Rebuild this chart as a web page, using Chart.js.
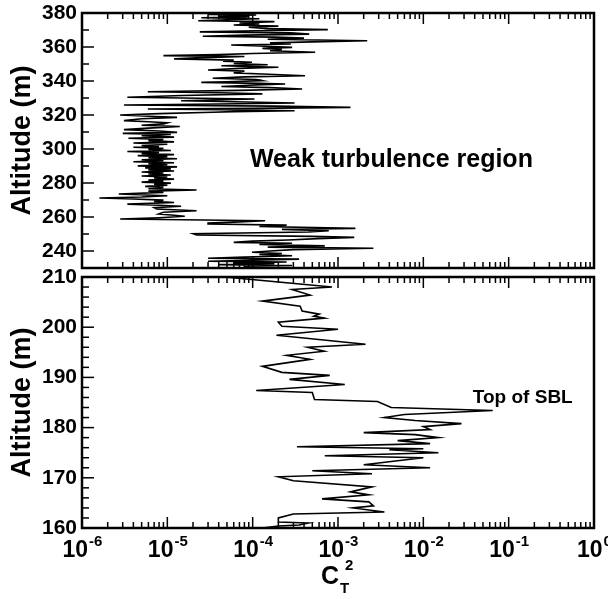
<!DOCTYPE html>
<html>
<head>
<meta charset="utf-8">
<script src="https://cdn.jsdelivr.net/npm/chart.js@4.4.0/dist/chart.umd.min.js"></script>
<style>
  body { margin: 0; background: #fff; }
  #wrap { position: relative; width: 608px; height: 599px; }
  canvas { position: absolute; left: 0; }
</style>
</head>
<body>
<div id="wrap">
  <canvas id="top-chart" width="608" height="273" style="top:0"></canvas>
  <canvas id="bottom-chart" width="608" height="341" style="top:258px"></canvas>
</div>
<script>
const FONT = '"Liberation Sans", Arial, Helvetica, sans-serif';

// upper panel: altitude (m) and CT2
const topAlt = [
  379.8, 379.2, 378.8, 378.3, 377.8, 377.2, 376.6, 376.0, 375.4, 374.9,
  374.2, 373.6, 372.9, 372.3, 371.6, 370.8, 370.2, 369.6, 368.9, 368.3,
  367.6, 367.0, 366.3, 365.8, 365.2, 364.6, 363.7, 363.0, 362.4, 361.8,
  361.2, 360.6, 359.8, 359.2, 358.5, 357.8, 356.9, 356.2, 355.5, 354.9,
  354.4, 353.6, 353.0, 352.3, 351.7, 351.0, 350.3, 349.6, 349.0, 348.1,
  347.4, 346.5, 345.8, 344.8, 344.1, 343.1, 342.4, 341.6, 340.9, 340.2,
  339.6, 339.2, 338.6, 338.2, 337.5, 336.8, 336.1, 335.3, 334.5, 333.7,
  333.1, 332.4, 331.5, 330.4, 329.4, 328.4, 327.8, 327.1, 326.5, 325.9,
  325.2, 324.5, 323.9, 323.5, 322.9, 322.5, 322.0, 321.6, 320.8, 320.0,
  319.3, 318.6, 317.8, 316.7, 316.0, 315.4, 314.8, 314.0, 313.2, 312.3,
  311.4, 310.6, 309.8, 309.2, 308.5, 307.8, 307.0, 306.3, 305.6, 304.9,
  304.2, 303.5, 302.8, 302.1, 301.4, 301.0, 300.4, 299.8, 299.1, 298.5,
  297.9, 297.3, 296.7, 296.1, 295.5, 294.9, 294.3, 293.7, 293.1, 292.5,
  291.9, 291.3, 290.7, 290.1, 289.5, 288.9, 288.3, 287.7, 287.1, 286.5,
  285.9, 285.3, 284.7, 284.1, 283.5, 282.9, 282.3, 281.7, 281.1, 280.5,
  279.9, 279.3, 278.7, 278.0, 277.4, 276.6, 275.9, 275.2, 274.5, 273.5,
  272.5, 271.8, 271.2, 270.6, 269.9, 269.2, 268.5, 267.6, 266.9, 266.3,
  265.5, 264.7, 263.7, 262.8, 261.8, 261.0, 260.4, 259.6, 258.8, 257.8,
  257.0, 256.5, 255.9, 255.2, 254.4, 253.3, 252.7, 251.9, 251.2, 250.2,
  249.4, 248.6, 248.0, 247.3, 246.5, 245.8, 245.1, 244.6, 243.8, 243.0,
  242.3, 241.6, 240.8, 240.0, 239.3, 238.5, 237.9, 237.2, 236.4, 235.7,
  235.2, 234.6, 234.0, 233.5, 233.0, 232.5, 232.0, 231.5, 231.0, 230.6
];
const topCt2 = [
  6e-5, 3e-5, 1.1e-4, 4e-5, 9e-5, 2.5e-5, 1.2e-4, 5e-5, 2.3e-5, 1.8e-4,
  7e-5, 1.2e-4, 6e-5, 2e-4, 9e-5, 1.5e-4, 7.6e-4, 1.1e-4, 2.4e-5, 2.8e-4,
  4.6e-4, 8e-5, 2.6e-5, 1.8e-4, 4e-4, 1.5e-4, 2.2e-3, 5e-4, 1.6e-4, 2.8e-4,
  5.6e-5, 1.2e-4, 2.9e-4, 1.3e-4, 2.2e-4, 1.6e-4, 5.4e-4, 1e-4, 4e-5, 9e-6,
  8e-5, 2.2e-5, 1.2e-5, 6e-5, 4.5e-5, 9.8e-5, 6e-5, 1.5e-4, 4.3e-5, 2e-4,
  7e-5, 3e-5, 8e-5, 6e-5, 1.3e-4, 4.1e-4, 8e-5, 3.4e-5, 1.1e-4, 1.3e-4,
  5e-5, 2.5e-5, 1.2e-4, 2.4e-4, 9e-5, 4.3e-5, 1.6e-4, 3.8e-4, 7e-5, 5.9e-6,
  4e-5, 1.3e-4, 1.5e-5, 3.4e-6, 1.05e-4, 1.45e-5, 6e-5, 3.1e-4, 4e-5, 3.1e-6,
  1.8e-4, 1.4e-3, 1e-4, 5.9e-6, 8e-5, 3.1e-4, 6e-5, 3.4e-5, 8e-6, 2.8e-6,
  6e-6, 1.3e-5, 5e-6, 3.1e-6, 6e-6, 1e-5, 9e-6, 5e-6, 1.4e-5, 6e-6,
  3.1e-6, 8e-6, 1.3e-5, 3e-6, 1.1e-5, 5e-6, 1.2e-5, 3.5e-6, 9e-6, 6e-6,
  1.2e-5, 4e-6, 1e-5, 5e-6, 8e-6, 4e-6, 9e-6, 6e-6, 1.1e-5, 3.4e-6,
  8e-6, 5e-6, 1.2e-5, 4.5e-6, 1e-5, 6e-6, 1.3e-5, 5e-6, 9e-6, 4e-6,
  1.2e-5, 6e-6, 1e-5, 4.5e-6, 1.3e-5, 5.5e-6, 1.1e-5, 6e-6, 1.2e-5, 5e-6,
  9e-6, 6e-6, 1.1e-5, 5e-6, 1e-5, 7e-6, 1.2e-5, 6e-6, 9e-6, 5e-6,
  1.1e-5, 7e-6, 1e-5, 5.5e-6, 9e-6, 6e-6, 2.2e-5, 6e-6, 9e-6, 2.7e-6,
  1e-5, 5e-6, 1.6e-6, 4e-6, 9e-6, 7e-6, 1.2e-5, 3.4e-6, 8e-6, 1.45e-5,
  7e-6, 7.5e-6, 2.2e-5, 9e-6, 7.9e-6, 1.2e-5, 1.6e-5, 8e-6, 2.8e-6, 1.4e-4,
  6e-5, 3e-5, 3e-5, 2.5e-4, 1.2e-4, 1.6e-3, 2.2e-4, 7.8e-4, 4.5e-4, 2e-5,
  2.2e-5, 5e-4, 1.55e-3, 5.8e-4, 2.6e-4, 1e-4, 6e-5, 2.9e-4, 1.2e-4, 7e-4,
  1.5e-4, 2.6e-3, 3e-4, 1.6e-4, 9.8e-5, 2.2e-4, 1.2e-4, 2.9e-4, 8e-5, 3e-5,
  3.5e-4, 1e-4, 3e-5, 2.5e-4, 6e-5, 1.8e-4, 4e-5, 2.9e-4, 8e-5, 1.5e-4
];

// lower panel
const botAlt = [
  210.0, 208.0, 207.5, 206.4, 205.2, 204.2, 203.2, 202.6, 202.2, 201.8,
  201.0, 200.2, 199.6, 198.4, 198.2, 196.6, 196.0, 195.2, 194.4, 193.6,
  192.2, 191.0, 190.4, 189.6, 188.6, 187.4, 187.0, 185.6, 185.2, 184.0,
  183.4, 182.6, 182.0, 181.4, 180.8, 180.2, 179.6, 179.0, 178.6, 178.0,
  177.4, 176.8, 176.2, 175.8, 175.6, 175.0, 174.4, 174.0, 173.4, 172.6,
  172.0, 171.4, 170.8, 170.2, 169.4, 168.2, 167.2, 166.6, 165.8, 165.2,
  164.4, 164.0, 163.2, 162.8, 162.0, 161.2, 161.0, 160.6, 160.4, 160.0
];
const botCt2 = [
  4.7e-5, 8.5e-4, 2.9e-4, 4.7e-4, 1.3e-4, 3.6e-4, 3.8e-4, 6e-4, 5.2e-4, 6.9e-4,
  2e-4, 2.2e-4, 1e-3, 1.9e-4, 2.5e-4, 2.1e-3, 4.4e-4, 6.9e-4, 2.5e-4, 4.7e-4,
  1.3e-4, 2.2e-4, 8e-4, 2.7e-4, 1.2e-3, 1.1e-4, 5e-4, 5.3e-4, 2.9e-3, 4.2e-3,
  6.5e-2, 6e-3, 3.5e-3, 8e-3, 2.8e-2, 1e-2, 1.2e-2, 2e-3, 8e-3, 1.5e-2,
  5e-3, 1.2e-2, 3.3e-4, 1e-2, 4e-3, 1.5e-2, 7e-4, 1e-2, 5e-3, 2e-3,
  1.2e-2, 5e-4, 2.5e-3, 2e-4, 3e-4, 2.5e-3, 1.4e-3, 2.3e-3, 6.5e-4, 2.3e-3,
  2.6e-3, 1.5e-3, 3.5e-3, 3e-4, 2e-4, 2e-4, 4.5e-4, 3.5e-4, 2e-4, 1.3e-4
];

const xDecades = [-6, -5, -4, -3, -2, -1, 0];
const topRange = [230, 380];
const botRange = [160, 210];

// frame, inward ticks on both x edges and the left edge, plus the panel note
const frame = {
  id: 'frame',
  afterDatasetsDraw(chart, args, opts) {
    const { ctx, chartArea: a, scales: { x, y } } = chart;
    ctx.save();
    ctx.strokeStyle = '#000';
    ctx.lineWidth = 1.5;
    const seg = (x1, y1, x2, y2) => {
      ctx.beginPath(); ctx.moveTo(x1, y1); ctx.lineTo(x2, y2); ctx.stroke();
    };
    xDecades.forEach(d => {
      for (let m = 1; m <= 9; m++) {
        if (d === 0 && m > 1) break;
        const px = x.getPixelForValue(m * Math.pow(10, d));
        const len = m === 1 ? 11 : 6;
        seg(px, a.bottom, px, a.bottom - len);
        seg(px, a.top, px, a.top + len);
      }
    });
    y.ticks.forEach(t => {
      const py = y.getPixelForValue(t.value);
      seg(a.left, py, a.left + (t.label ? 12 : 7), py);
    });
    ctx.lineWidth = 2.5;
    ctx.strokeRect(a.left, a.top, a.right - a.left, a.bottom - a.top);
    if (opts.note) {
      ctx.fillStyle = '#000';
      ctx.font = 'bold ' + opts.note.size + 'px ' + FONT;
      ctx.textAlign = 'left';
      ctx.textBaseline = 'alphabetic';
      ctx.fillText(opts.note.text, x.getPixelForValue(opts.note.x), y.getPixelForValue(opts.note.y));
    }
    ctx.restore();
  }
};

// log tick labels with superscript exponents and the CT^2 title
const xLabels = {
  id: 'xLabels',
  afterDraw(chart) {
    const { ctx, chartArea: a, scales: { x } } = chart;
    ctx.save();
    ctx.fillStyle = '#000';
    ctx.textAlign = 'left';
    ctx.textBaseline = 'alphabetic';
    xDecades.forEach(d => {
      const px = x.getPixelForValue(Math.pow(10, d));
      ctx.font = 'bold 23px ' + FONT;
      const wb = ctx.measureText('10').width;
      ctx.font = 'bold 15px ' + FONT;
      const ex = String(d);
      const we = ctx.measureText(ex).width;
      const left = px - (wb + we) / 2;
      ctx.font = 'bold 23px ' + FONT;
      ctx.fillText('10', left, a.bottom + 29);
      ctx.font = 'bold 15px ' + FONT;
      ctx.fillText(ex, left + wb + 1, a.bottom + 18);
    });
    const cx = (a.left + a.right) / 2;
    ctx.font = 'bold 25px ' + FONT;
    const wc = ctx.measureText('C').width;
    const left = cx - (wc + 16) / 2;
    ctx.fillText('C', left, a.bottom + 56);
    ctx.font = 'bold 15px ' + FONT;
    ctx.fillText('T', left + wc + 1, a.bottom + 65);
    ctx.fillText('2', left + wc + 6, a.bottom + 42);
    ctx.restore();
  }
};

function makeChart(id, alt, ct2, range, step, labelEvery, padding, note, extra) {
  return new Chart(document.getElementById(id), {
    type: 'scatter',
    data: {
      datasets: [{
        data: alt.map((v, i) => ({ x: ct2[i], y: v })),
        showLine: true,
        borderColor: '#000',
        borderWidth: 1.6,
        pointRadius: 0,
        tension: 0
      }]
    },
    options: {
      responsive: false,
      animation: false,
      layout: { padding },
      plugins: { legend: { display: false }, tooltip: { enabled: false }, frame: { note } },
      scales: {
        x: { type: 'logarithmic', min: 1e-6, max: 1, display: false },
        y: {
          min: range[0], max: range[1],
          grid: { display: false, drawTicks: false },
          border: { display: false },
          ticks: {
            stepSize: step,
            autoSkip: false,
            padding: 5,
            color: '#000',
            font: { family: FONT, size: 21, weight: 'bold' },
            callback: v => (v % labelEvery === 0 ? String(v) : '')
          },
          title: {
            display: true,
            text: 'Altitude (m)',
            color: '#000',
            font: { family: FONT, size: 27, weight: 'bold' },
            padding: { top: 6, bottom: 0 }
          },
          afterFit: s => {
            s.width = 82;
            s.paddingTop = 0;
            s.paddingBottom = 0;
          }
        }
      }
    },
    plugins: extra ? [frame, extra] : [frame]
  });
}

makeChart('top-chart', topAlt, topCt2, topRange, 10, 20,
  { top: 13, right: 14, bottom: 5, left: 0 },
  { text: 'Weak turbulence region', x: 9.3e-5, y: 289.5, size: 25 });
makeChart('bottom-chart', botAlt, botCt2, botRange, 2, 10,
  { top: 19, right: 14, bottom: 71, left: 0 },
  { text: 'Top of SBL', x: 0.038, y: 185.0, size: 19 }, xLabels);
</script>
</body>
</html>
